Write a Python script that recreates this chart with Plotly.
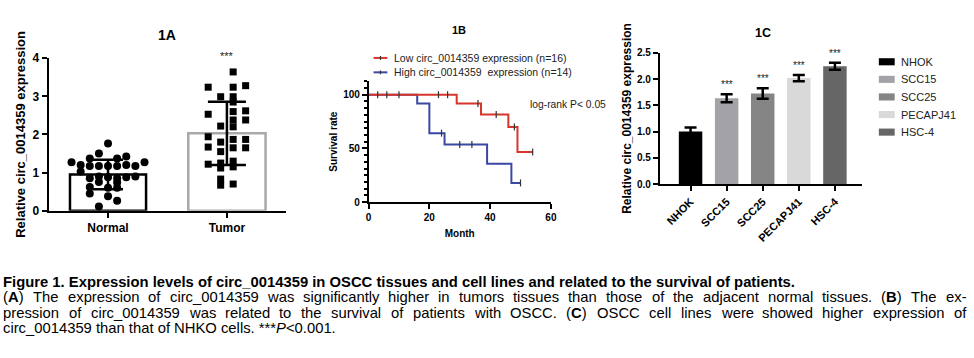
import re
import plotly.graph_objects as go

W, H = 974, 358
FONT = "Liberation Sans, Arial, Helvetica, sans-serif"
CAP_FONT = "Liberation Sans, Arial, sans-serif"

# ---------------- Panel 1A : qPCR tissues ----------------
groups_a = ["Normal", "Tumor"]
mean_a = [0.95, 2.03]
sd_a = [0.39, 0.83]
normal_vals = [1.76, 1.50, 1.42, 1.37, 1.37, 1.27, 1.27, 1.20, 1.17, 1.17,
               1.17, 1.17, 1.20, 1.17, 1.03, 0.90, 0.88, 0.90, 0.88, 0.85,
               0.85, 0.75, 0.74, 0.62, 0.60, 0.60, 0.45, 0.38, 0.26, 0.11]
normal_col = [0, -1, 2, -2, 1, -4, 4, -3, -2, -1,
              0, 1, 2, 3, -3, 3, 2, -1, 0, -2,
              1, -1, 1, -2, 0, 1, -2, 0, 1, -1]
tumor_vals = [3.24, 2.53, 1.94, 1.67, 1.22,
              2.99, 2.22, 1.80, 1.55, 1.25, 1.12, 0.83, 0.67,
              3.64, 3.24, 2.99, 2.85, 2.60, 2.38, 2.20, 1.87, 1.65, 1.30, 1.15, 0.70,
              3.28, 2.62, 2.38, 1.87, 1.65]
tumor_col = [-1.5, -1.5, -1.5, -1.5, -1.5,
             -0.5, -0.5, -0.5, -0.5, -0.5, -0.5, -0.5, -0.5,
             0.5, 0.5, 0.5, 0.5, 0.5, 0.5, 0.5, 0.5, 0.5, 0.5, 0.5, 0.5,
             1.5, 1.5, 1.5, 1.5, 1.5]

# ---------------- Panel 1B : survival ----------------
low_t = [0, 29, 37, 46, 49, 54]
low_s = [100, 91.7, 81.5, 70.0, 46.7, 46.7]
high_t = [0, 16, 20, 25, 39, 47, 50]
high_s = [100, 91.7, 64.2, 53.5, 35.7, 17.8, 17.8]
low_cens_t = [3, 6, 10, 23, 26, 36, 42, 48, 54]
low_cens_s = [100, 100, 100, 100, 100, 91.7, 81.5, 70.0, 46.7]
high_cens_t = [24, 30, 34, 50]
high_cens_s = [64.2, 53.5, 53.5, 17.8]
surv_labels = ["Low circ_0014359 expression (n=16)", "High circ_0014359  expression (n=14)"]

# ---------------- Panel 1C : cell lines ----------------
cells = ["NHOK", "SCC15", "SCC25", "PECAPJ41", "HSC-4"]
mean_c = [1.00, 1.635, 1.725, 2.02, 2.245]
err_c = [0.08, 0.075, 0.10, 0.06, 0.065]
sig_c = ["", "***", "***", "***", "***"]
colors_c = ["#000000", "#a3a3a7", "#858585", "#d9d9d9", "#666666"]

# ---------------- Caption text ----------------
cap_title = "<b>Figure 1. Expression levels of circ_0014359 in OSCC tissues and cell lines and related to the survival of patients.</b>"
cap_lines = [
    "(<b>A</b>) The expression of circ_0014359 was significantly higher in tumors tissues than those of the adjacent normal tissues. (<b>B</b>) The ex-",
    "pression of circ_0014359 was related to the survival of patients with OSCC. (<b>C</b>) OSCC cell lines were showed higher expression of",
]
cap_last = "circ_0014359 than that of NHKO cells. ***<i>P</i>&lt;0.001."

RED = "#d8352b"
BLUE = "#3a48a4"


def xp(p):
    return p / W


def yp(p):
    return 1 - p / H


# Arial / Liberation Sans advance widths (1/1000 em), used to justify caption lines
_AW = {" ": 278, "(": 333, ")": 333, ".": 278, "-": 333, "_": 556, "*": 389, "<": 584}
for ch in "0123456789":
    _AW[ch] = 556
_AW.update(dict(zip("ABCDEFGHIJKLMNOPQRSTUVWXYZ",
                    [667, 667, 722, 722, 667, 611, 778, 722, 278, 500, 667, 556, 833,
                     722, 778, 667, 778, 722, 667, 611, 722, 667, 944, 667, 667, 611])))
_AW.update(dict(zip("abcdefghijklmnopqrstuvwxyz",
                    [556, 556, 500, 556, 556, 278, 556, 556, 222, 222, 500, 222, 833,
                     556, 556, 556, 556, 333, 500, 278, 556, 500, 722, 500, 500, 500])))
_BW = {"A": 722, "B": 722, "C": 722}


def text_width(s, size):
    s = s.replace("&lt;", "<")
    total, boldon = 0, False
    for tok in re.split(r"(</?[bi]>)", s):
        if tok == "<b>":
            boldon = True
        elif tok == "</b>":
            boldon = False
        elif tok in ("<i>", "</i>"):
            pass
        else:
            for ch in tok:
                total += (_BW.get(ch, _AW.get(ch, 556)) if boldon else _AW.get(ch, 556))
    return total * size / 1000.0


fig = go.Figure()

# ---- 1A
fig.add_trace(go.Bar(x=[0, 1], y=mean_a, width=[0.64, 0.65],
                     marker=dict(color="white", line=dict(color=["#000000", "#a9a9a9"], width=2.5)),
                     xaxis="x", yaxis="y", hoverinfo="skip"))
fig.add_trace(go.Scatter(x=[0 + c * 0.0767 for c in normal_col], y=normal_vals, mode="markers",
                         marker=dict(symbol="circle", size=8, color="black"),
                         xaxis="x", yaxis="y", cliponaxis=False))
fig.add_trace(go.Scatter(x=[1 + c * 0.105 for c in tumor_col], y=tumor_vals, mode="markers",
                         marker=dict(symbol="square", size=7, color="black"),
                         xaxis="x", yaxis="y", cliponaxis=False))
for i, w in zip(range(2), [15, 19]):
    fig.add_trace(go.Scatter(x=[i], y=[mean_a[i]], mode="lines",
                             error_y=dict(type="data", array=[sd_a[i]], thickness=2.5, width=w, color="black"),
                             xaxis="x", yaxis="y"))

# ---- 1B
for t, s, ct, cs, col in [(high_t, high_s, high_cens_t, high_cens_s, BLUE),
                          (low_t, low_s, low_cens_t, low_cens_s, RED)]:
    fig.add_trace(go.Scatter(x=t, y=s, mode="lines", line=dict(color=col, width=2, shape="hv"),
                             xaxis="x2", yaxis="y2", cliponaxis=False))
    fig.add_trace(go.Scatter(x=ct, y=cs, mode="markers",
                             marker=dict(symbol="line-ns-open", size=5, color="#333333",
                                         line=dict(color="#333333", width=1.2)),
                             xaxis="x2", yaxis="y2", cliponaxis=False))

# ---- 1C
fig.add_trace(go.Bar(x=list(range(len(cells))), y=mean_c, width=0.65,
                     marker=dict(color=colors_c, line=dict(width=0)),
                     error_y=dict(type="data", array=err_c, thickness=2.5, width=6, color="black"),
                     xaxis="x3", yaxis="y3"))

annotations = []
# significance stars
annotations.append(dict(x=1, y=4, xref="x", yref="y", text="***", showarrow=False,
                        yanchor="bottom", yshift=-6, font=dict(family=FONT, size=11, color="#222")))
for i, s in enumerate(sig_c):
    if s:
        annotations.append(dict(x=i, y=mean_c[i] + err_c[i], xref="x3", yref="y3", text=s, showarrow=False,
                                yanchor="bottom", yshift=2, font=dict(family=FONT, size=10, color="#222")))

# panel titles
for txt, x, y, sz in [("1A", 166, 29, 14), ("1B", 460, 24, 11), ("1C", 767, 27, 12.5)]:
    annotations.append(dict(x=xp(x), y=yp(y), xref="paper", yref="paper", text=txt, showarrow=False,
                            xanchor="center", yanchor="middle",
                            font=dict(family=FONT, size=sz, color="black", weight="bold")))

# 1B legend + log-rank
shapes = []
for lab, col, y in [(surv_labels[0], RED, 53), (surv_labels[1], BLUE, 68)]:
    shapes.append(dict(type="line", xref="paper", yref="paper", x0=xp(374), x1=xp(388), y0=yp(y), y1=yp(y),
                       line=dict(color=col, width=2)))
    shapes.append(dict(type="line", xref="paper", yref="paper", x0=xp(381), x1=xp(381), y0=yp(y + 2), y1=yp(y - 2),
                       line=dict(color="#333", width=1.2)))
    annotations.append(dict(x=xp(393), y=yp(y), xref="paper", yref="paper", text=lab, showarrow=False,
                            xanchor="left", yanchor="middle", font=dict(family=FONT, size=10.5, color="#222")))
annotations.append(dict(x=xp(530), y=yp(101), xref="paper", yref="paper", text="log-rank P&lt; 0.05",
                        showarrow=False, xanchor="left", yanchor="middle",
                        font=dict(family=FONT, size=10.3, color="#222")))

# 1C legend
for i, (c, col) in enumerate(zip(cells, colors_c)):
    yc = 57 + i * 18.3
    shapes.append(dict(type="rect", xref="paper", yref="paper", x0=xp(884), x1=xp(900),
                       y0=yp(yc + 3.7), y1=yp(yc - 3.7), fillcolor=col, line=dict(width=0)))
    annotations.append(dict(x=xp(904), y=yp(yc), xref="paper", yref="paper", text=c, showarrow=False,
                            xanchor="left", yanchor="middle", font=dict(family=FONT, size=11, color="#222")))

# caption
CAP_SIZE = 14.8
LEFT, RIGHT = 0.5, 972
cap_style = dict(xref="paper", yref="paper", showarrow=False, yanchor="middle", xanchor="left",
                 borderpad=0, borderwidth=0)
annotations.append(dict(cap_style, x=xp(LEFT), y=yp(286), text=cap_title,
                        font=dict(family=CAP_FONT, size=CAP_SIZE, color="black")))
for line, y in zip(cap_lines, [302, 318]):
    words = line.split(" ")
    widths = [text_width(w, CAP_SIZE) for w in words]
    gap = (RIGHT - LEFT - sum(widths)) / (len(words) - 1)
    x = LEFT
    for w, wd in zip(words, widths):
        annotations.append(dict(cap_style, x=xp(x), y=yp(y), text=w,
                                font=dict(family=CAP_FONT, size=CAP_SIZE, color="black")))
        x += wd + gap
annotations.append(dict(cap_style, x=xp(LEFT), y=yp(334), text=cap_last,
                        font=dict(family=CAP_FONT, size=CAP_SIZE, color="black")))

ax = dict(showline=True, linecolor="black", ticks="outside", tickcolor="black", showgrid=False,
          zeroline=False, fixedrange=True)
bold = lambda s: dict(family=FONT, size=s, color="black", weight="bold")

fig.update_layout(
    width=W, height=H, margin=dict(l=0, r=0, t=0, b=0),
    paper_bgcolor="white", plot_bgcolor="white", showlegend=False,
    xaxis=dict(ax, domain=[xp(46), xp(286)], range=[-0.5, 1.5], tickvals=[0, 1], ticktext=groups_a,
               linewidth=2, tickwidth=2, ticklen=5, tickfont=bold(12), anchor="y"),
    yaxis=dict(ax, domain=[yp(212), yp(53.3)], range=[0, 4], dtick=1, linewidth=2, tickwidth=2, ticklen=5,
               tickfont=bold(12), title=dict(text="Relative circ_0014359 expression", font=bold(13), standoff=4),
               anchor="x"),
    xaxis2=dict(ax, domain=[xp(369), xp(553)], range=[0, 60], dtick=20, linewidth=1.5, tickwidth=1.5,
                ticklen=5, tickfont=bold(10), title=dict(text="Month", font=bold(10), standoff=8), anchor="y2"),
    yaxis2=dict(ax, domain=[yp(203), yp(77.3)], range=[0, 112.5], tickvals=[0, 50, 100], linewidth=1.5,
                tickwidth=1.5, ticklen=5, tickfont=bold(10),
                minor=dict(dtick=6.25, ticklen=3, tickcolor="black", ticks="outside"),
                title=dict(text="Survival rate", font=bold(10), standoff=4), anchor="x2"),
    xaxis3=dict(ax, domain=[xp(663), xp(867)], range=[-0.85, 4.75], tickvals=list(range(len(cells))),
                ticktext=cells, tickangle=-45, linewidth=2, tickwidth=2, ticklen=5, tickfont=bold(11),
                anchor="y3"),
    yaxis3=dict(ax, domain=[yp(184.3), yp(47.7)], range=[0, 2.5], dtick=0.5, tickformat=".1f", linewidth=2,
                tickwidth=2, ticklen=5, tickfont=bold(10),
                title=dict(text="Relative circ_0014359 expression", font=bold(12), standoff=3), anchor="x3"),
    annotations=annotations, shapes=shapes,
)

fig.write_html("out.html", config={"displayModeBar": False},
               post_script="document.body.style.margin='0';")
